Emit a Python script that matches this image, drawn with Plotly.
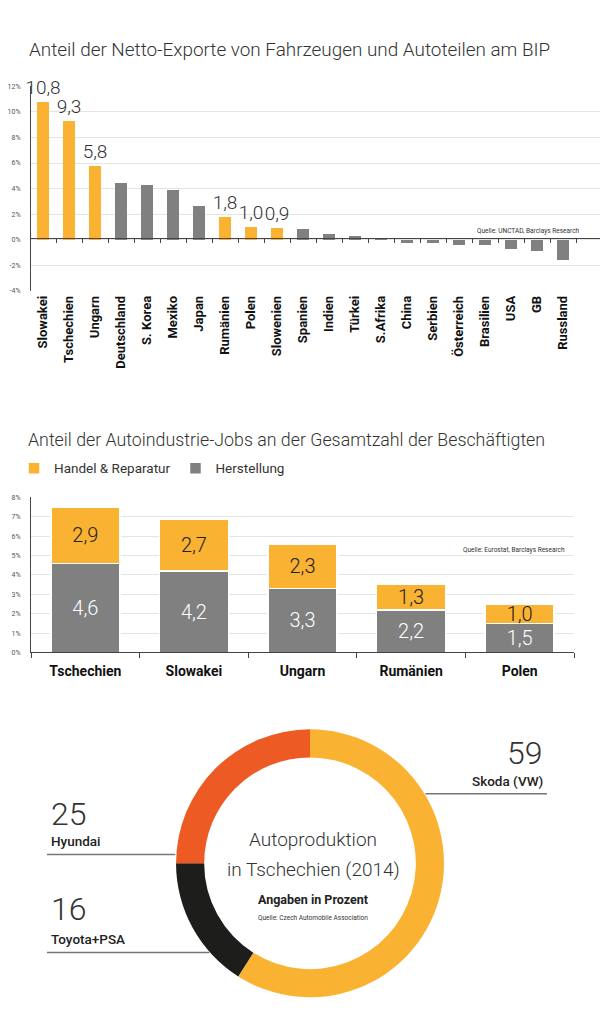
import math
import plotly.graph_objects as go

W, H = 616, 1035


def px(x):
    return x / W


def py(y):
    return 1 - y / H


COND = "Roboto, 'Liberation Sans', sans-serif"
ORANGE = "#FAB232"
GRAY = "#808080"
RED = "#EE5A24"
BLACK = "#1D1D1B"
TXT = "#333333"
GRID = "#E4E4E4"
AXIS = "#444444"

# ---------------- Chart 1 data ----------------
exp_countries = ["Slowakei", "Tschechien", "Ungarn", "Deutschland", "S. Korea", "Mexiko",
                 "Japan", "Rumänien", "Polen", "Slowenien", "Spanien", "Indien", "Türkei",
                 "S.Afrika", "China", "Serbien", "Österreich", "Brasilien", "USA", "GB",
                 "Russland"]
exp_values = [10.8, 9.3, 5.8, 4.4, 4.25, 3.9, 2.6, 1.8, 1.0, 0.9, 0.8, 0.45, 0.25,
              0.15, -0.3, -0.3, -0.4, -0.45, -0.75, -0.85, -1.6]
exp_highlight = [True, True, True, False, False, False, False, True, True, True,
                 False, False, False, False, False, False, False, False, False, False, False]
exp_yticks = [-4, -2, 0, 2, 4, 6, 8, 10, 12]
exp_yticklabels = ["-4%", "-2%", "0%", "2%", "4%", "6%", "8%", "10%", "12%"]

# ---------------- Chart 2 data ----------------
job_countries = ["Tschechien", "Slowakei", "Ungarn", "Rumänien", "Polen"]
job_herstellung = [4.6, 4.2, 3.3, 2.2, 1.5]
job_handel = [2.9, 2.7, 2.3, 1.3, 1.0]
job_yticks = [0, 1, 2, 3, 4, 5, 6, 7, 8]
job_yticklabels = ["0%", "1%", "2%", "3%", "4%", "5%", "6%", "7%", "8%"]

# ---------------- Chart 3 data ----------------
prod_labels = ["Skoda (VW)", "Toyota+PSA", "Hyundai"]
prod_values = [59, 16, 25]
prod_colors = [ORANGE, BLACK, RED]


def de(v):
    return f"{v:.1f}".replace(".", ",")


fig = go.Figure()

# Chart 1 bars
fig.add_trace(go.Bar(
    x=exp_countries, y=exp_values,
    marker=dict(color=[ORANGE if h else GRAY for h in exp_highlight], line=dict(width=0)),
    width=0.46,
    text=[de(v) if h else "" for v, h in zip(exp_values, exp_highlight)],
    textposition="outside", cliponaxis=False, constraintext="none",
    textfont=dict(family=COND, size=19, color=TXT, weight=300),
    showlegend=False, hoverinfo="x+y",
    xaxis="x", yaxis="y",
))

# Chart 2 stacked bars
fig.add_trace(go.Bar(
    name="Herstellung", x=job_countries, y=job_herstellung,
    marker=dict(color=GRAY, line=dict(color="white", width=1.5)),
    width=0.636,
    text=[de(v) for v in job_herstellung], textposition="inside",
    insidetextanchor="middle", constraintext="none",
    textfont=dict(family=COND, size=20, color="white", weight=300),
    xaxis="x2", yaxis="y2",
))
fig.add_trace(go.Bar(
    name="Handel & Reparatur", x=job_countries, y=job_handel,
    marker=dict(color=ORANGE, line=dict(color="white", width=1.5)),
    width=0.636,
    text=[de(v) for v in job_handel], textposition="inside",
    insidetextanchor="middle", constraintext="none",
    textfont=dict(family=COND, size=20, color="#222222", weight=300),
    xaxis="x2", yaxis="y2",
))

# Chart 3 donut
CX, CY, R = 310, 866, 135
fig.add_trace(go.Pie(
    labels=prod_labels, values=prod_values, hole=0.79, sort=False,
    direction="clockwise", rotation=0, textinfo="none",
    marker=dict(colors=prod_colors, line=dict(width=0)),
    domain=dict(x=[px(CX - R), px(CX + R)], y=[py(CY + R), py(CY - R)]),
    showlegend=False,
))

tickfont_small = dict(family=COND, size=7, color="#555555")

fig.update_layout(
    width=W, height=H, margin=dict(l=0, r=0, t=0, b=0),
    paper_bgcolor="white", plot_bgcolor="white",
    separators=",.",
    barmode="stack",
    showlegend=True,
    legend=dict(orientation="h", x=px(14), y=py(468), xanchor="left", yanchor="middle",
                traceorder="reversed", font=dict(family=COND, size=13.5, color=TXT),
                bgcolor="rgba(0,0,0,0)"),
    xaxis=dict(domain=[px(30), px(600)], range=[-0.5, 21.42], anchor="free",
               position=py(235.5), showline=True, linecolor=AXIS, linewidth=1,
               ticks="outside", tickson="boundaries", ticklen=4, tickcolor=AXIS,
               tickangle=-90, ticklabelstandoff=52,
               tickfont=dict(family=COND, size=13, color="#111111", weight="bold"),
               showgrid=False, fixedrange=True),
    yaxis=dict(domain=[py(289), py(83)], range=[-4, 12], tickvals=exp_yticks,
               ticktext=exp_yticklabels, showgrid=True, gridcolor=GRID, zeroline=False,
               showline=True, linecolor=AXIS, linewidth=1, ticks="",
               ticklabelstandoff=8, tickfont=tickfont_small, anchor="free",
               position=px(30)),
    xaxis2=dict(domain=[px(31), px(574)], anchor="y2", showline=True, linecolor=AXIS,
                ticks="outside", tickson="boundaries", ticklen=5, tickcolor=AXIS,
                ticklabelstandoff=6,
                tickfont=dict(family=COND, size=14, color="#111111", weight="bold"),
                showgrid=False),
    yaxis2=dict(domain=[py(653.5), py(497.3)], range=[0, 8], tickvals=job_yticks,
                ticktext=job_yticklabels, showgrid=True, gridcolor=GRID, zeroline=False,
                showline=True, linecolor=AXIS, ticks="", ticklabelstandoff=8,
                tickfont=tickfont_small, anchor="x2"),
)

ann = []


def add_text(text, x, y, size, xanchor="left", yanchor="middle", weight=300, color=TXT):
    ann.append(dict(text=text, x=px(x), y=py(y), xref="paper", yref="paper",
                    xanchor=xanchor, yanchor=yanchor, showarrow=False,
                    font=dict(family=COND, size=size, color=color, weight=weight)))


add_text("Anteil der Netto-Exporte von Fahrzeugen und Autoteilen am BIP", 27, 46, 18.9)
add_text("Quelle: UNCTAD, Barclays Research", 582, 229, 6.5, xanchor="right", weight=400)
add_text("Anteil der Autoindustrie-Jobs an der Gesamtzahl der Beschäftigten", 26, 439, 17.8)
add_text("Quelle: Eurostat, Barclays Research", 567, 550, 6.5, xanchor="right", weight=400)

# Donut centre texts
add_text("Autoproduktion", 313, 842, 19, xanchor="center")
add_text("in Tschechien (2014)", 313, 872, 19, xanchor="center")
add_text("Angaben in Prozent", 313, 902, 12.5, xanchor="center", weight="bold", color="#222222")
add_text("Quelle: Czech Automobile Association", 313, 921, 6.5, xanchor="center", weight=400)

# Donut labels
shapes = []


def ring_x(y, side):
    dx = math.sqrt(R ** 2 - (y - CY) ** 2)
    return CX + dx if side > 0 else CX - dx


label_pos = {
    "Skoda (VW)": dict(side=1, xtext=545, ynum=755, ylab=783, yline=796),
    "Hyundai": dict(side=-1, xtext=49, ynum=816, ylab=844, yline=857),
    "Toyota+PSA": dict(side=-1, xtext=49, ynum=912, ylab=942, yline=956),
}
for lab, val in zip(prod_labels, prod_values):
    p = label_pos[lab]
    anchor = "right" if p["side"] > 0 else "left"
    add_text(str(val), p["xtext"], p["ynum"], 32, xanchor=anchor)
    add_text(lab, p["xtext"], p["ylab"], 13.5, xanchor=anchor, weight=500, color="#222222")
    x_ring = ring_x(p["yline"], p["side"])
    x_end = p["xtext"] + (2 if p["side"] > 0 else -2)
    shapes.append(dict(type="line", xref="paper", yref="paper",
                       x0=px(x_ring), x1=px(x_end), y0=py(p["yline"]), y1=py(p["yline"]),
                       line=dict(color="#777777", width=1.5)))

fig.update_layout(annotations=ann, shapes=shapes)

fig.write_html("out.html", config={"displayModeBar": False},
               post_script="document.body.style.margin='0px';document.body.style.padding='0px';")
